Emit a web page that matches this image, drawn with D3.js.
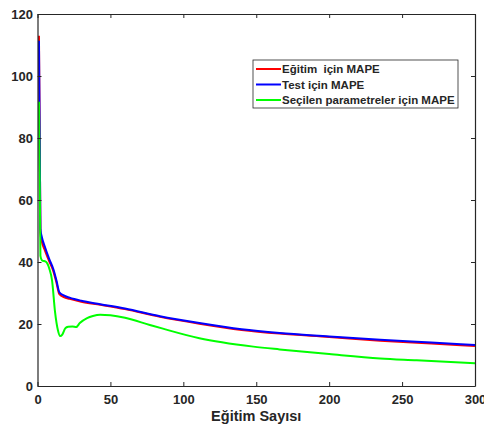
<!DOCTYPE html>
<html>
<head>
<meta charset="UTF-8">
<title>MAPE</title>
<style>
body { margin: 0; background: #fff; }
text { font-family: "Liberation Sans", Arial, sans-serif; font-weight: bold; fill: #262626; }
</style>
</head>
<body>
<svg width="484" height="428"></svg>
<script src="https://d3js.org/d3.v7.min.js"></script>
<script>
// epochs, with values for each curve
var egitimX = [1, 2, 3, 5, 8, 11, 13, 15, 18, 22, 30, 43, 60, 84, 111, 140, 166, 200, 235, 270, 300];
var egitimY = [113, 49.5, 46.5, 43.8, 40.3, 36.8, 33.3, 29.6, 28.7, 28.1, 27.2, 26.2, 24.8, 22.3, 20.1, 18.1, 16.9, 15.8, 14.6, 13.7, 12.9];
var testX = [1, 2, 3, 5, 8, 11, 13, 15, 18, 22, 30, 43, 60, 84, 111, 140, 166, 200, 235, 270, 300];
var testY = [111.4, 50.5, 48, 45, 41, 37.5, 34, 30.2, 29.2, 28.5, 27.5, 26.4, 25, 22.5, 20.3, 18.3, 17.1, 16, 14.9, 14, 13.2];
var secilenX = [1, 2, 3, 6, 8, 10, 12, 14, 15.5, 17, 19, 21, 24, 26.5, 29, 34, 38, 43, 50, 60, 77, 86, 111, 148, 166, 200, 235, 260, 300];
var secilenY = [91.7, 42, 40.6, 40, 38, 34, 24, 18, 16.1, 16.6, 18.6, 19.1, 19.2, 19, 20.3, 21.9, 22.6, 23, 22.8, 22, 19.7, 18.5, 15.4, 12.7, 11.8, 10.3, 8.9, 8.3, 7.3];
var seriesNames = ["Eğitim  için MAPE", "Test için MAPE", "Seçilen parametreler için MAPE"];
var seriesColors = ["#ff0000", "#0000ff", "#00ff00"];
var xTicks = [0, 50, 100, 150, 200, 250, 300];
var yTicks = [0, 20, 40, 60, 80, 100, 120];

var svg = d3.select("svg"),
    plotLeft = 37.5, plotRight = 475, plotTop = 14, plotBottom = 386;

var x = d3.scaleLinear().domain([0, 300]).range([plotLeft, plotRight]);
var y = d3.scaleLinear().domain([0, 120]).range([plotBottom, plotTop]);

var series = [
  d3.zip(egitimX, egitimY),
  d3.zip(testX, testY),
  d3.zip(secilenX, secilenY)
];

var line = d3.line()
    .x(function(d) { return x(d[0]); })
    .y(function(d) { return y(d[1]); })
    .curve(d3.curveMonotoneX);

svg.append("clipPath").attr("id", "plot")
  .append("rect").attr("x", plotLeft).attr("y", plotTop)
  .attr("width", plotRight - plotLeft).attr("height", plotBottom - plotTop);

svg.append("g").attr("clip-path", "url(#plot)")
  .selectAll("path").data(series).enter().append("path")
  .attr("d", line)
  .attr("fill", "none")
  .attr("stroke", function(d, i) { return seriesColors[i]; })
  .attr("stroke-width", 2);

// axes, ticks inward on all four sides
function styleAxis(g) {
  g.select(".domain").attr("stroke", "#262626").attr("stroke-width", 1.2);
  g.selectAll(".tick line").attr("stroke", "#262626").attr("stroke-width", 1);
  g.selectAll(".tick text").style("font-size", "13px").style("font-weight", "bold")
    .attr("fill", "#262626").style("font-family", "'Liberation Sans', Arial, sans-serif");
}

svg.append("g").attr("transform", "translate(0," + plotBottom + ")")
  .call(d3.axisBottom(x).tickValues(xTicks).tickSizeInner(-4).tickSizeOuter(0).tickPadding(9))
  .call(styleAxis);
svg.append("g").attr("transform", "translate(0," + plotTop + ")")
  .call(d3.axisTop(x).tickValues(xTicks).tickSizeInner(-4).tickSizeOuter(0).tickFormat(""))
  .call(styleAxis);
svg.append("g").attr("transform", "translate(" + plotLeft + ",0)")
  .call(d3.axisLeft(y).tickValues(yTicks).tickSizeInner(-4).tickSizeOuter(0).tickPadding(4.5))
  .call(styleAxis);
svg.append("g").attr("transform", "translate(" + plotRight + ",0)")
  .call(d3.axisRight(y).tickValues(yTicks).tickSizeInner(-4).tickSizeOuter(0).tickFormat(""))
  .call(styleAxis);

svg.append("text")
  .attr("x", (plotLeft + plotRight) / 2).attr("y", 421)
  .attr("text-anchor", "middle")
  .style("font-size", "14.5px")
  .text("Eğitim Sayısı");

// legend
var legend = svg.append("g");
legend.append("rect")
  .attr("x", 253).attr("y", 60).attr("width", 205).attr("height", 48)
  .attr("fill", "#fff").attr("stroke", "#262626").attr("stroke-width", 0.8);

var items = legend.selectAll("g.item").data(seriesNames).enter().append("g")
  .attr("transform", function(d, i) { return "translate(0," + (69 + i * 15.5) + ")"; });
items.append("line")
  .attr("x1", 256).attr("x2", 281).attr("y1", 0).attr("y2", 0)
  .attr("stroke", function(d, i) { return seriesColors[i]; })
  .attr("stroke-width", 2);
items.append("text")
  .attr("x", 282).attr("y", 4)
  .attr("xml:space", "preserve")
  .style("white-space", "pre")
  .style("font-size", "11.5px")
  .attr("fill", "#000")
  .text(function(d) { return d; });
</script>
</body>
</html>
